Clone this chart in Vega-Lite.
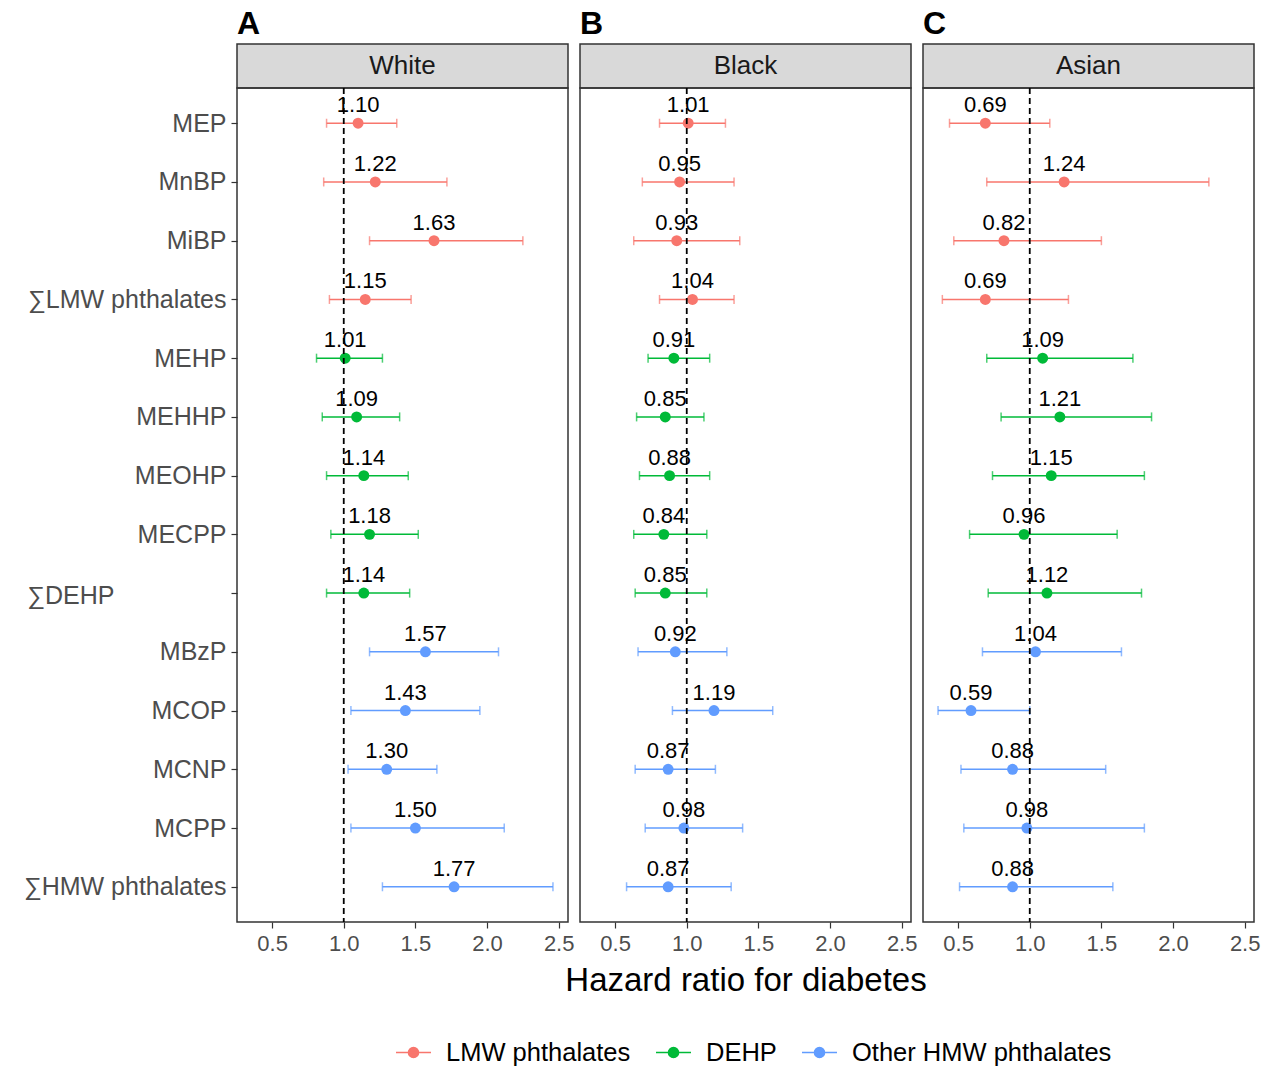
{
  "$schema": "https://vega.github.io/schema/vega-lite/v6.json",
  "padding": {"left": 22, "top": 7, "right": 10, "bottom": 4},
  "data": {"values": [
    {"race": "White", "exposure": "MEP", "group": "LMW phthalates", "hr": 1.10, "lower": 0.88, "upper": 1.37},
    {"race": "White", "exposure": "MnBP", "group": "LMW phthalates", "hr": 1.22, "lower": 0.86, "upper": 1.72},
    {"race": "White", "exposure": "MiBP", "group": "LMW phthalates", "hr": 1.63, "lower": 1.18, "upper": 2.25},
    {"race": "White", "exposure": "∑LMW phthalates", "group": "LMW phthalates", "hr": 1.15, "lower": 0.90, "upper": 1.47},
    {"race": "White", "exposure": "MEHP", "group": "DEHP", "hr": 1.01, "lower": 0.81, "upper": 1.27},
    {"race": "White", "exposure": "MEHHP", "group": "DEHP", "hr": 1.09, "lower": 0.85, "upper": 1.39},
    {"race": "White", "exposure": "MEOHP", "group": "DEHP", "hr": 1.14, "lower": 0.88, "upper": 1.45},
    {"race": "White", "exposure": "MECPP", "group": "DEHP", "hr": 1.18, "lower": 0.91, "upper": 1.52},
    {"race": "White", "exposure": "∑DEHP", "group": "DEHP", "hr": 1.14, "lower": 0.88, "upper": 1.46},
    {"race": "White", "exposure": "MBzP", "group": "Other HMW phthalates", "hr": 1.57, "lower": 1.18, "upper": 2.08},
    {"race": "White", "exposure": "MCOP", "group": "Other HMW phthalates", "hr": 1.43, "lower": 1.05, "upper": 1.95},
    {"race": "White", "exposure": "MCNP", "group": "Other HMW phthalates", "hr": 1.30, "lower": 1.03, "upper": 1.65},
    {"race": "White", "exposure": "MCPP", "group": "Other HMW phthalates", "hr": 1.50, "lower": 1.05, "upper": 2.12},
    {"race": "White", "exposure": "∑HMW phthalates", "group": "Other HMW phthalates", "hr": 1.77, "lower": 1.27, "upper": 2.46},
    {"race": "Black", "exposure": "MEP", "group": "LMW phthalates", "hr": 1.01, "lower": 0.81, "upper": 1.27},
    {"race": "Black", "exposure": "MnBP", "group": "LMW phthalates", "hr": 0.95, "lower": 0.69, "upper": 1.33},
    {"race": "Black", "exposure": "MiBP", "group": "LMW phthalates", "hr": 0.93, "lower": 0.63, "upper": 1.37},
    {"race": "Black", "exposure": "∑LMW phthalates", "group": "LMW phthalates", "hr": 1.04, "lower": 0.81, "upper": 1.33},
    {"race": "Black", "exposure": "MEHP", "group": "DEHP", "hr": 0.91, "lower": 0.73, "upper": 1.16},
    {"race": "Black", "exposure": "MEHHP", "group": "DEHP", "hr": 0.85, "lower": 0.65, "upper": 1.12},
    {"race": "Black", "exposure": "MEOHP", "group": "DEHP", "hr": 0.88, "lower": 0.67, "upper": 1.16},
    {"race": "Black", "exposure": "MECPP", "group": "DEHP", "hr": 0.84, "lower": 0.63, "upper": 1.14},
    {"race": "Black", "exposure": "∑DEHP", "group": "DEHP", "hr": 0.85, "lower": 0.64, "upper": 1.14},
    {"race": "Black", "exposure": "MBzP", "group": "Other HMW phthalates", "hr": 0.92, "lower": 0.66, "upper": 1.28},
    {"race": "Black", "exposure": "MCOP", "group": "Other HMW phthalates", "hr": 1.19, "lower": 0.90, "upper": 1.60},
    {"race": "Black", "exposure": "MCNP", "group": "Other HMW phthalates", "hr": 0.87, "lower": 0.64, "upper": 1.20},
    {"race": "Black", "exposure": "MCPP", "group": "Other HMW phthalates", "hr": 0.98, "lower": 0.71, "upper": 1.39},
    {"race": "Black", "exposure": "∑HMW phthalates", "group": "Other HMW phthalates", "hr": 0.87, "lower": 0.58, "upper": 1.31},
    {"race": "Asian", "exposure": "MEP", "group": "LMW phthalates", "hr": 0.69, "lower": 0.44, "upper": 1.14},
    {"race": "Asian", "exposure": "MnBP", "group": "LMW phthalates", "hr": 1.24, "lower": 0.70, "upper": 2.25},
    {"race": "Asian", "exposure": "MiBP", "group": "LMW phthalates", "hr": 0.82, "lower": 0.47, "upper": 1.50},
    {"race": "Asian", "exposure": "∑LMW phthalates", "group": "LMW phthalates", "hr": 0.69, "lower": 0.39, "upper": 1.27},
    {"race": "Asian", "exposure": "MEHP", "group": "DEHP", "hr": 1.09, "lower": 0.70, "upper": 1.72},
    {"race": "Asian", "exposure": "MEHHP", "group": "DEHP", "hr": 1.21, "lower": 0.80, "upper": 1.85},
    {"race": "Asian", "exposure": "MEOHP", "group": "DEHP", "hr": 1.15, "lower": 0.74, "upper": 1.80},
    {"race": "Asian", "exposure": "MECPP", "group": "DEHP", "hr": 0.96, "lower": 0.58, "upper": 1.61},
    {"race": "Asian", "exposure": "∑DEHP", "group": "DEHP", "hr": 1.12, "lower": 0.71, "upper": 1.78},
    {"race": "Asian", "exposure": "MBzP", "group": "Other HMW phthalates", "hr": 1.04, "lower": 0.67, "upper": 1.64},
    {"race": "Asian", "exposure": "MCOP", "group": "Other HMW phthalates", "hr": 0.59, "lower": 0.36, "upper": 1.00},
    {"race": "Asian", "exposure": "MCNP", "group": "Other HMW phthalates", "hr": 0.88, "lower": 0.52, "upper": 1.53},
    {"race": "Asian", "exposure": "MCPP", "group": "Other HMW phthalates", "hr": 0.98, "lower": 0.54, "upper": 1.80},
    {"race": "Asian", "exposure": "∑HMW phthalates", "group": "Other HMW phthalates", "hr": 0.88, "lower": 0.51, "upper": 1.58}
  ]},
  "columns": 3,
  "spacing": {"row": 0, "column": 12},
  "bounds": "flush",
  "concat": [
    {
      "data": {"values": [{"race": "White"}]},
      "width": 331, "height": 44,
      "title": {"text": "A"},
      "view": {"fill": "#d9d9d9", "stroke": "#333333", "strokeWidth": 1.5},
      "mark": {"type": "text", "fontSize": 26, "color": "#1a1a1a"},
      "encoding": {"text": {"field": "race"}}
    },
    {
      "data": {"values": [{"race": "Black"}]},
      "width": 331, "height": 44,
      "title": {"text": "B"},
      "view": {"fill": "#d9d9d9", "stroke": "#333333", "strokeWidth": 1.5},
      "mark": {"type": "text", "fontSize": 26, "color": "#1a1a1a"},
      "encoding": {"text": {"field": "race"}}
    },
    {
      "data": {"values": [{"race": "Asian"}]},
      "width": 331, "height": 44,
      "title": {"text": "C"},
      "view": {"fill": "#d9d9d9", "stroke": "#333333", "strokeWidth": 1.5},
      "mark": {"type": "text", "fontSize": 26, "color": "#1a1a1a"},
      "encoding": {"text": {"field": "race"}}
    },
    {
      "width": 331, "height": 834,
      "layer": [
        {
          "transform": [{"filter": "datum.race == 'White'"}],
          "encoding": {
            "y": {"field": "exposure", "type": "ordinal", "title": null,
                  "scale": {"type": "point", "padding": 0.6, "domain": ["MEP", "MnBP", "MiBP", "∑LMW phthalates", "MEHP", "MEHHP", "MEOHP", "MECPP", "∑DEHP", "MBzP", "MCOP", "MCNP", "MCPP", "∑HMW phthalates"]},
                  "axis": {"labelFontSize": 25, "labelLimit": 0,
                           "labelPadding": {"condition": {"test": "datum.value == '∑DEHP'", "value": 117}, "value": 5},
                           "labelOffset": {"condition": {"test": "datum.value == '∑DEHP'", "value": 2}, "value": 0}}},
            "color": {"field": "group", "type": "nominal", "title": null, "scale": {"domain": ["LMW phthalates", "DEHP", "Other HMW phthalates"], "range": ["#F8766D", "#00BA38", "#619CFF"]}}
          },
          "layer": [
            {"mark": {"type": "rule", "strokeWidth": 1.5},
             "encoding": {"x": {"field": "lower", "type": "quantitative", "scale": {"domain": [0.255, 2.565], "nice": false, "zero": false},
                                "axis": {"values": [0.5, 1, 1.5, 2, 2.5], "format": ".1f"}, "title": null},
                          "x2": {"field": "upper"}}},
            {"mark": {"type": "tick", "thickness": 1.5, "size": 9, "orient": "vertical"},
             "encoding": {"x": {"field": "lower", "type": "quantitative"}}},
            {"mark": {"type": "tick", "thickness": 1.5, "size": 9, "orient": "vertical"},
             "encoding": {"x": {"field": "upper", "type": "quantitative"}}},
            {"mark": {"type": "point", "filled": true, "opacity": 1, "size": 120},
             "encoding": {"x": {"field": "hr", "type": "quantitative"}}},
            {"mark": {"type": "text", "fontSize": 22, "color": "black", "dy": -18},
             "encoding": {"x": {"field": "hr", "type": "quantitative"},
                          "text": {"field": "hr", "type": "quantitative", "format": ".2f"},
                          "color": {"value": "black"}}}
          ]
        },
        {"data": {"values": [{"ref": 1}]},
         "mark": {"type": "rule", "color": "black", "strokeWidth": 1.8, "strokeDash": [6, 4]},
         "encoding": {"x": {"field": "ref", "type": "quantitative"}}}
      ]
    },
    {
      "width": 331, "height": 834,
      "layer": [
        {
          "transform": [{"filter": "datum.race == 'Black'"}],
          "encoding": {
            "y": {"field": "exposure", "type": "ordinal", "title": null,
                  "scale": {"type": "point", "padding": 0.6, "domain": ["MEP", "MnBP", "MiBP", "∑LMW phthalates", "MEHP", "MEHHP", "MEOHP", "MECPP", "∑DEHP", "MBzP", "MCOP", "MCNP", "MCPP", "∑HMW phthalates"]},
                  "axis": null},
            "color": {"field": "group", "type": "nominal", "title": null, "scale": {"domain": ["LMW phthalates", "DEHP", "Other HMW phthalates"], "range": ["#F8766D", "#00BA38", "#619CFF"]}}
          },
          "layer": [
            {"mark": {"type": "rule", "strokeWidth": 1.5},
             "encoding": {"x": {"field": "lower", "type": "quantitative", "scale": {"domain": [0.255, 2.565], "nice": false, "zero": false},
                                "axis": {"values": [0.5, 1, 1.5, 2, 2.5], "format": ".1f", "title": "Hazard ratio for diabetes"}},
                          "x2": {"field": "upper"}}},
            {"mark": {"type": "tick", "thickness": 1.5, "size": 9, "orient": "vertical"},
             "encoding": {"x": {"field": "lower", "type": "quantitative"}}},
            {"mark": {"type": "tick", "thickness": 1.5, "size": 9, "orient": "vertical"},
             "encoding": {"x": {"field": "upper", "type": "quantitative"}}},
            {"mark": {"type": "point", "filled": true, "opacity": 1, "size": 120},
             "encoding": {"x": {"field": "hr", "type": "quantitative"}}},
            {"mark": {"type": "text", "fontSize": 22, "color": "black", "dy": -18},
             "encoding": {"x": {"field": "hr", "type": "quantitative"},
                          "text": {"field": "hr", "type": "quantitative", "format": ".2f"},
                          "color": {"value": "black"}}}
          ]
        },
        {"data": {"values": [{"ref": 1}]},
         "mark": {"type": "rule", "color": "black", "strokeWidth": 1.8, "strokeDash": [6, 4]},
         "encoding": {"x": {"field": "ref", "type": "quantitative"}}}
      ]
    },
    {
      "width": 331, "height": 834,
      "layer": [
        {
          "transform": [{"filter": "datum.race == 'Asian'"}],
          "encoding": {
            "y": {"field": "exposure", "type": "ordinal", "title": null,
                  "scale": {"type": "point", "padding": 0.6, "domain": ["MEP", "MnBP", "MiBP", "∑LMW phthalates", "MEHP", "MEHHP", "MEOHP", "MECPP", "∑DEHP", "MBzP", "MCOP", "MCNP", "MCPP", "∑HMW phthalates"]},
                  "axis": null},
            "color": {"field": "group", "type": "nominal", "title": null, "scale": {"domain": ["LMW phthalates", "DEHP", "Other HMW phthalates"], "range": ["#F8766D", "#00BA38", "#619CFF"]}}
          },
          "layer": [
            {"mark": {"type": "rule", "strokeWidth": 1.5},
             "encoding": {"x": {"field": "lower", "type": "quantitative", "scale": {"domain": [0.255, 2.565], "nice": false, "zero": false},
                                "axis": {"values": [0.5, 1, 1.5, 2, 2.5], "format": ".1f"}, "title": null},
                          "x2": {"field": "upper"}}},
            {"mark": {"type": "tick", "thickness": 1.5, "size": 9, "orient": "vertical"},
             "encoding": {"x": {"field": "lower", "type": "quantitative"}}},
            {"mark": {"type": "tick", "thickness": 1.5, "size": 9, "orient": "vertical"},
             "encoding": {"x": {"field": "upper", "type": "quantitative"}}},
            {"mark": {"type": "point", "filled": true, "opacity": 1, "size": 120},
             "encoding": {"x": {"field": "hr", "type": "quantitative"}}},
            {"mark": {"type": "text", "fontSize": 22, "color": "black", "dy": -18},
             "encoding": {"x": {"field": "hr", "type": "quantitative"},
                          "text": {"field": "hr", "type": "quantitative", "format": ".2f"},
                          "color": {"value": "black"}}}
          ]
        },
        {"data": {"values": [{"ref": 1}]},
         "mark": {"type": "rule", "color": "black", "strokeWidth": 1.8, "strokeDash": [6, 4]},
         "encoding": {"x": {"field": "ref", "type": "quantitative"}}}
      ]
    }
  ],
  "resolve": {"scale": {"color": "shared", "x": "independent", "y": "independent"}},
  "config": {
    "font": "Liberation Sans",
    "view": {"stroke": "#333333", "strokeWidth": 1.5},
    "axis": {"grid": false, "domain": false, "tickColor": "#333333", "tickSize": 6, "tickWidth": 1.2,
             "labelColor": "#4d4d4d", "labelFont": "Liberation Sans", "labelFontSize": 22, "labelPadding": 5,
             "labelOverlap": false, "labelBound": false, "labelFlush": false,
             "titleFont": "Liberation Sans", "titleFontSize": 33, "titleFontWeight": "normal", "titleColor": "black", "titlePadding": 10},
    "legend": {"orient": "none", "legendX": 158, "legendY": 990, "direction": "horizontal", "labelFontSize": 25.5, "labelColor": "black", "labelFont": "Liberation Sans", "labelLimit": 0,
               "symbolType": "M-1,0L1,0M-0.29,0A0.29,0.29,0,1,1,0.29,0A0.29,0.29,0,1,1,-0.29,0Z",
               "symbolSize": 1225, "symbolStrokeWidth": 1.5, "symbolOpacity": 1, "columnPadding": 22, "labelOffset": 14},
    "title": {"anchor": "start", "frame": "group", "fontSize": 32, "fontWeight": "bold", "color": "black", "offset": 3, "font": "Liberation Sans"}
  }
}
